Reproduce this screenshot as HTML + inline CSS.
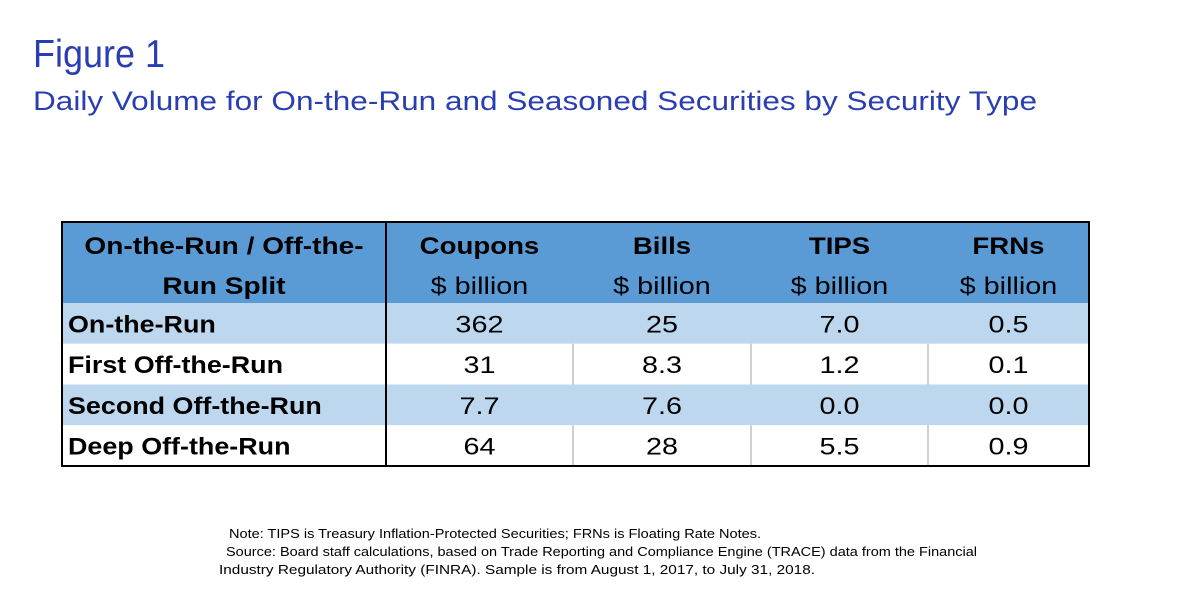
<!DOCTYPE html>
<html><head><meta charset="utf-8"><style>
html,body{margin:0;padding:0;background:#fff;}
svg{display:block;}
</style></head><body>
<svg width="1200" height="615" viewBox="0 0 1200 615" xmlns="http://www.w3.org/2000/svg">
<text x="33" y="67" font-family="Liberation Sans, sans-serif" font-size="39" fill="#2a3eb1" textLength="132" lengthAdjust="spacingAndGlyphs">Figure 1</text>
<text x="33" y="110" font-family="Liberation Sans, sans-serif" font-size="27" fill="#2a3eb1" textLength="1004" lengthAdjust="spacingAndGlyphs">Daily Volume for On-the-Run and Seasoned Securities by Security Type</text>
<g id="tbl"></g>
<g font-family="Liberation Sans, Arial, sans-serif" font-size="12.5" fill="#000">
<text x="229" y="538" textLength="532" lengthAdjust="spacingAndGlyphs">Note: TIPS is Treasury Inflation-Protected Securities; FRNs is Floating Rate Notes.</text>
<text x="226" y="556" textLength="751" lengthAdjust="spacingAndGlyphs">Source: Board staff calculations, based on Trade Reporting and Compliance Engine (TRACE) data from the Financial</text>
<text x="219" y="574" textLength="596" lengthAdjust="spacingAndGlyphs">Industry Regulatory Authority (FINRA). Sample is from August 1, 2017, to July 31, 2018.</text>
</g>
</svg>
<script>
const columns = ["Coupons","Bills","TIPS","FRNs"];
const rowLabels = ["On-the-Run","First Off-the-Run","Second Off-the-Run","Deep Off-the-Run"];
const coupons = ["362","31","7.7","64"];
const bills = ["25","8.3","7.6","28"];
const tips = ["7.0","1.2","0.0","5.5"];
const frns = ["0.5","0.1","0.0","0.9"];
const series = [coupons,bills,tips,frns];

(function(){
const NS="http://www.w3.org/2000/svg";
const g=document.getElementById('tbl');
const colX=[62,386,573,751,928,1089];
const tTop=222, headH=81, rowH=40.75;
const F='Liberation Sans, sans-serif';
function mk(tag,attrs){const e=document.createElementNS(NS,tag);for(const k in attrs)e.setAttribute(k,attrs[k]);g.appendChild(e);return e;}
function txt(x,y,s,anchor,bold,factor){
  const t=mk('text',{x:x,y:y,'text-anchor':anchor,'font-family':F,'font-size':24,'font-weight':bold?'bold':'normal',fill:'#000'});
  t.textContent=s;
  try{const w=t.getComputedTextLength();if(w>0){t.setAttribute('textLength',(w*factor).toFixed(1));t.setAttribute('lengthAdjust','spacingAndGlyphs');}}catch(e){}
  return t;
}

let h=mk('rect',{x:62,y:tTop,width:1027,height:headH,fill:'#5b9bd5'});


let l1=txt(224,254,'On-the-Run / Off-the-','middle',true,1.17);


let l2=txt(224,294,'Run Split','middle',true,1.17);


columns.forEach((c,i)=>{
  const cx=(colX[i+1]+colX[i+2])/2;
  const a=txt(cx,254,c,'middle',true,1.15);
  
  
  const b=txt(cx,294,'$ billion','middle',false,1.2);
  
  
});
rowLabels.forEach((r,i)=>{
  const y=tTop+headH+i*rowH;
  const bg=mk('rect',{x:62,y:y,width:1027,height:rowH,fill:i%2===0?'#bdd7ee':'#ffffff'});
  
  
  if(i%2===1){for(let k=2;k<5;k++){const ln=mk('line',{x1:colX[k],x2:colX[k],y1:y,y2:y+rowH,stroke:'#d0d0d0','stroke-width':2});}}
  const lt=txt(68,y+rowH/2+9,r,'start',true,1.12);
  
  
  series.forEach((s,j)=>{
    const v=txt((colX[j+1]+colX[j+2])/2,y+rowH/2+9,s[i],'middle',false,1.2);
    
    
  });
});
const vl=mk('line',{x1:386,x2:386,y1:tTop,y2:tTop+headH+4*rowH,stroke:'#000','stroke-width':2});


const bd=mk('rect',{x:62,y:tTop,width:1027,height:headH+4*rowH,fill:'none',stroke:'#000','stroke-width':2});


})();
</script>
</body></html>
